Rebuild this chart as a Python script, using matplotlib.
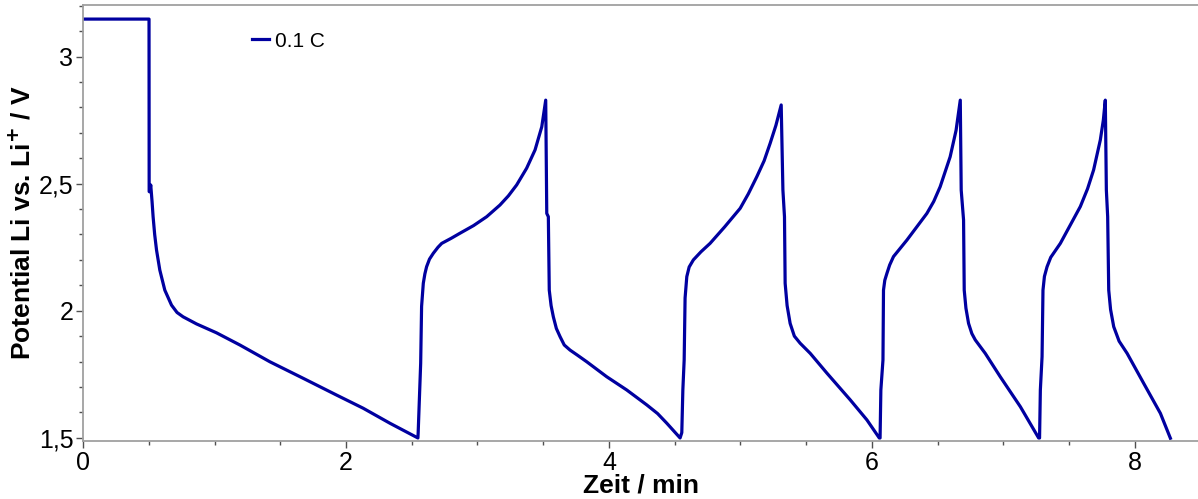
import numpy as np
import matplotlib
matplotlib.use("Agg")
import matplotlib.pyplot as plt
from matplotlib.ticker import MultipleLocator, FuncFormatter

plt.rcParams["font.family"] = ["Liberation Sans", "DejaVu Sans"]

# CONFIG
LINE_COLOR = "#0000A0"
SPINE_COLOR = "#A0A0A0"
LEGEND_LABEL = "0.1 C"
X_LABEL = "Zeit / min"
Y_LABEL = "Potential Li vs. Li$^{\\mathbf{+}}$ / V"

# DATA
zeit_min = [
    # OCV + first discharge
    0.000, 0.502, 0.503, 0.507, 0.515, 0.525, 0.533, 0.545, 0.559, 0.584,
    0.622, 0.673, 0.715, 0.761, 0.863, 1.015, 1.193, 1.421, 1.674, 1.928,
    2.131, 2.334, 2.547,
    # charge 1
    2.549, 2.568, 2.575, 2.588, 2.600, 2.613, 2.635, 2.664, 2.700, 2.728,
    2.800, 2.867, 2.970, 3.070, 3.171, 3.235, 3.298, 3.374, 3.438, 3.489,
    3.519,
    # discharge 2
    3.527, 3.539, 3.546, 3.560, 3.577, 3.600, 3.628, 3.660, 3.704, 3.760,
    3.831, 3.983, 4.135, 4.288, 4.370, 4.440, 4.541,
    # charge 2
    4.554, 4.562, 4.572, 4.579, 4.592, 4.610, 4.642, 4.700, 4.769, 4.880,
    4.998, 5.060, 5.125, 5.180, 5.226, 5.270, 5.310,
    # discharge 3
    5.323, 5.335, 5.340, 5.355, 5.378, 5.410, 5.454, 5.531, 5.658, 5.835,
    5.962, 6.056,
    # charge 3
    6.062, 6.068, 6.084, 6.088, 6.098, 6.114, 6.135, 6.164, 6.266, 6.418,
    6.470, 6.519, 6.595, 6.640, 6.672,
    # discharge 4
    6.679, 6.697, 6.702, 6.715, 6.735, 6.760, 6.786, 6.862, 6.976, 7.129,
    7.268,
    # charge 4
    7.275, 7.281, 7.294, 7.301, 7.312, 7.332, 7.360, 7.433, 7.585, 7.640,
    7.686, 7.737, 7.760, 7.775,
    # discharge 5
    7.783, 7.793, 7.801, 7.815, 7.839, 7.880, 7.941, 8.067, 8.194, 8.270,
]
potential_v = [
    3.148, 3.148, 2.469, 2.468, 2.495, 2.430, 2.370, 2.300, 2.239, 2.160,
    2.081, 2.022, 1.993, 1.976, 1.948, 1.913, 1.865, 1.799, 1.734, 1.668,
    1.616, 1.557, 1.499,
    1.520, 1.793, 2.017, 2.108, 2.145, 2.173, 2.203, 2.226, 2.250, 2.265,
    2.285, 2.305, 2.335, 2.370, 2.416, 2.452, 2.495, 2.561, 2.633, 2.724,
    2.829,
    2.383, 2.370, 2.081, 2.020, 1.976, 1.930, 1.898, 1.865, 1.845, 1.825,
    1.799, 1.740, 1.688, 1.629, 1.595, 1.557, 1.499,
    1.520, 1.688, 1.806, 2.050, 2.134, 2.172, 2.200, 2.232, 2.265, 2.330,
    2.403, 2.460, 2.528, 2.590, 2.659, 2.730, 2.810,
    2.475, 2.370, 2.108, 2.020, 1.950, 1.900, 1.872, 1.832, 1.754, 1.649,
    1.570, 1.499,
    1.499, 1.688, 1.806, 2.081, 2.120, 2.147, 2.180, 2.213, 2.278, 2.383,
    2.430, 2.488, 2.606, 2.710, 2.829,
    2.475, 2.357, 2.081, 2.010, 1.950, 1.910, 1.885, 1.832, 1.740, 1.622,
    1.499,
    1.499, 1.688, 1.819, 2.081, 2.135, 2.173, 2.210, 2.265, 2.410, 2.480,
    2.554, 2.672, 2.750, 2.829,
    2.475, 2.370, 2.081, 2.005, 1.937, 1.880, 1.832, 1.714, 1.596, 1.498,
]

x_major = 2
x_minor = 0.5
y_major = 0.5
y_minor = 0.1


def comma_fmt(v, _pos):
    s = f"{v:g}"
    return s.replace(".", ",")


fig = plt.figure(figsize=(11.98, 4.99), dpi=100)
ax = fig.add_axes([0.0693, 0.1162, 0.9307, 0.8738])

ax.plot(zeit_min, potential_v, color=LINE_COLOR, linewidth=2.3,
        solid_joinstyle="round", label=LEGEND_LABEL)

ax.set_xlim(0, 8.48)
ax.set_ylim(1.487, 3.2035)

ax.xaxis.set_major_locator(MultipleLocator(x_major))
ax.xaxis.set_minor_locator(MultipleLocator(x_minor))
ax.yaxis.set_major_locator(MultipleLocator(y_major))
ax.yaxis.set_minor_locator(MultipleLocator(y_minor))
ax.xaxis.set_major_formatter(FuncFormatter(comma_fmt))
ax.yaxis.set_major_formatter(FuncFormatter(comma_fmt))

for side in ["top", "bottom", "left"]:
    ax.spines[side].set_color(SPINE_COLOR)
    ax.spines[side].set_linewidth(1.3)
ax.spines["right"].set_visible(False)

ax.tick_params(axis="both", which="major", direction="out", length=5,
               width=1.0, color="#505050", labelsize=18, pad=2)
ax.tick_params(axis="both", which="minor", direction="out", length=3,
               width=1.0, color="#505050")

ax.set_xlabel(X_LABEL, fontsize=19, fontweight="bold", labelpad=-1)
ax.set_ylabel(Y_LABEL, fontsize=19, fontweight="bold", labelpad=2)

ax.legend(loc="center left", bbox_to_anchor=(0.1445, 0.917), frameon=False,
          fontsize=15, handlelength=0.8, handletextpad=0.3,
          borderaxespad=0)

fig.savefig("out.png", dpi=100)
